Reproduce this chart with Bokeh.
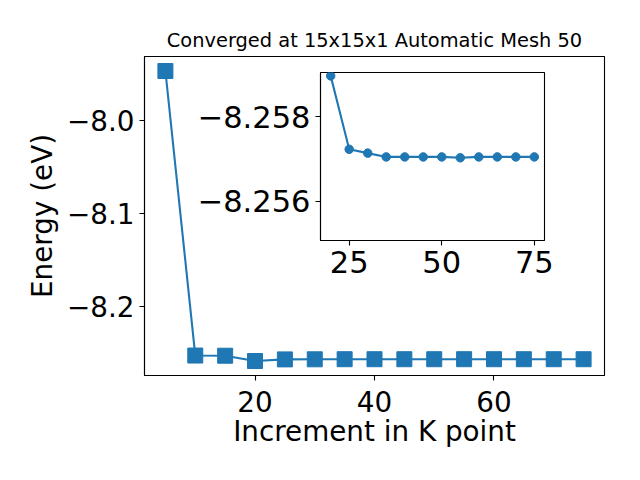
from bokeh.plotting import figure
from bokeh.models import Range1d, FixedTicker, CustomJSTickFormatter
from bokeh.layouts import column
from bokeh.embed import file_html
from bokeh.resources import INLINE

# ---- data ----
kpoints = [5, 10, 15, 20, 25, 30, 35, 40, 45, 50, 55, 60, 65, 70, 75]
energy = [-7.9468, -8.2531, -8.2533, -8.25897, -8.25723, -8.25714, -8.25705,
          -8.25705, -8.25705, -8.25705, -8.25703, -8.25705, -8.25705, -8.25705, -8.25705]
inset_kpoints = [20, 25, 30, 35, 40, 45, 50, 55, 60, 65, 70, 75]
inset_energy = [-8.25897, -8.25723, -8.25714, -8.25705, -8.25705, -8.25705,
                -8.25705, -8.25703, -8.25705, -8.25705, -8.25705, -8.25705]

main_xticks = [20, 40, 60]
main_yticks = [-8.2, -8.1, -8.0]
inset_xticks = [25, 50, 75]
inset_yticks = [-8.258, -8.256]
inset_ylim = (-8.25507, -8.25905)   # inverted axis (bottom, top)

title_text = "Converged at 15x15x1 Automatic Mesh 50"
xlabel = "Increment in K point"
ylabel = "Energy (eV)"

BLUE = "#1f77b4"
FONT = "DejaVu Sans"

# ---- ranges from data (5% padding like matplotlib) ----
xpad = 0.05 * (max(kpoints) - min(kpoints))
ypad = 0.05 * (max(energy) - min(energy))
ixpad = 0.05 * (max(inset_kpoints) - min(inset_kpoints))

p = figure(width=632, height=472,
           x_range=Range1d(min(kpoints) - xpad, max(kpoints) + xpad),
           y_range=Range1d(min(energy) - ypad, max(energy) + ypad),
           output_backend="svg", toolbar_location=None,
           min_border_left=144, min_border_right=28,
           min_border_top=56, min_border_bottom=97,
           title=title_text)

p.line(kpoints, energy, line_width=2.1, color=BLUE)
p.scatter(kpoints, energy, marker="square", size=15, color=BLUE)

p.title.text_font = FONT
p.title.text_font_size = "19.4px"
p.title.text_font_style = "normal"
p.title.align = "center"
p.title.text_color = "black"

p.xgrid.visible = False
p.ygrid.visible = False
p.outline_line_color = "black"
p.outline_line_width = 1.1
p.outline_line_alpha = 1.0

for ax in (p.xaxis[0], p.yaxis[0]):
    ax.minor_tick_line_color = None
    ax.major_tick_in = 0
    ax.major_tick_out = 5
    ax.major_tick_line_width = 1.1
    ax.axis_line_width = 1.1
    ax.major_label_text_font = FONT
    ax.major_label_text_font_size = "27.8px"
    ax.major_label_text_color = "black"
    ax.major_label_standoff = 5
    ax.axis_label_text_font = FONT
    ax.axis_label_text_font_size = "27.8px"
    ax.axis_label_text_font_style = "normal"
    ax.axis_label_text_color = "black"

p.xaxis.ticker = FixedTicker(ticks=main_xticks)
p.yaxis.ticker = FixedTicker(ticks=main_yticks)
p.xaxis.axis_label = xlabel
p.yaxis.axis_label = ylabel
p.xaxis.major_label_standoff = 10
p.xaxis.axis_label_standoff = 0
p.yaxis.axis_label_standoff = 5
p.xaxis.formatter = CustomJSTickFormatter(code="return tick.toFixed(0);")
p.yaxis.formatter = CustomJSTickFormatter(code="return tick.toFixed(1).replace('-', '\\u2212');")

# ---- inset ----
q = figure(width=396, height=223,
           x_range=Range1d(min(inset_kpoints) - ixpad, max(inset_kpoints) + ixpad),
           y_range=Range1d(inset_ylim[0], inset_ylim[1]),
           output_backend="svg", toolbar_location=None,
           min_border_left=144, min_border_right=28,
           min_border_top=5, min_border_bottom=50)
q.margin = (-405, 0, 0, 176)
q.border_fill_alpha = 0
q.background_fill_color = "white"

q.line(inset_kpoints, inset_energy, line_width=2.1, color=BLUE)
q.scatter(inset_kpoints, inset_energy, marker="circle", size=8.5, color=BLUE)

q.xgrid.visible = False
q.ygrid.visible = False
q.outline_line_color = "black"
q.outline_line_width = 1.1
q.outline_line_alpha = 1.0

for ax in (q.xaxis[0], q.yaxis[0]):
    ax.minor_tick_line_color = None
    ax.major_tick_in = 0
    ax.major_tick_out = 5
    ax.major_tick_line_width = 1.1
    ax.axis_line_width = 1.1
    ax.major_label_text_font = FONT
    ax.major_label_text_font_size = "30.5px"
    ax.major_label_text_color = "black"
    ax.major_label_standoff = 5

q.xaxis.ticker = FixedTicker(ticks=inset_xticks)
q.yaxis.ticker = FixedTicker(ticks=inset_yticks)
q.xaxis.formatter = CustomJSTickFormatter(code="return tick.toFixed(0);")
q.yaxis.formatter = CustomJSTickFormatter(code="return tick.toFixed(3).replace('-', '\\u2212');")

layout = column(p, q)

open("out.html", "w").write(file_html(layout, INLINE))
